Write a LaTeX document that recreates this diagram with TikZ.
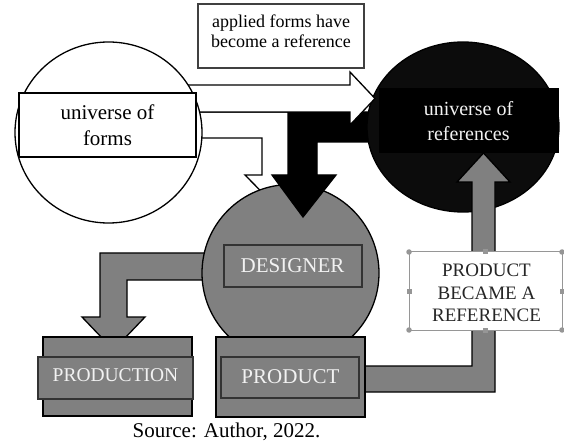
\documentclass[tikz,border=0pt]{standalone}
\usepackage{fontspec}
\setmainfont{Liberation Serif}
\definecolor{midgray}{RGB}{128,128,128}
\definecolor{offwhite}{RGB}{242,242,242}
\definecolor{handlegray}{RGB}{150,150,150}
\definecolor{nearblack}{RGB}{12,12,12}
\tikzset{
  outl/.style={draw=black, line width=1.3pt, line join=miter},
  whiteshape/.style={outl, fill=white},
  grayshape/.style={outl, fill=midgray},
  blackshape/.style={draw=black, line width=1.3pt, fill=black},
  graybox/.style={draw=black!80, line width=1.3pt, fill=midgray},
  lbl/.style={align=center, inner sep=0pt},
  handlesq/.style={fill=handlegray, draw=none, minimum size=5pt, inner sep=0pt, rectangle},
  handlecirc/.style={fill=handlegray, draw=none, minimum size=5.5pt, inner sep=0pt, circle}
}
\begin{document}
\begin{tikzpicture}[x=1pt, y=-1pt]
\useasboundingbox (0,0) rectangle (564,443);
\fill[white] (0,0) rectangle (564,443);

% top label box
\draw[draw=black!75, line width=1.1pt, fill=white] (198,4) rectangle (364,68);
\node[lbl, font=\fontsize{18}{20}\selectfont] (applied) at (281,31.4) {applied forms have\\become a reference};

% white bent arrow (behind)
\draw[whiteshape] (150,112) -- (289,112) -- (289,175) -- (306,175) -- (275.5,206) -- (245,175) -- (262,175) -- (262,138) -- (150,138) -- cycle;

% gray left arrow
\draw[grayshape] (230,253) -- (100,253) -- (100,317) -- (82,317) -- (113.5,350) -- (145,317) -- (127,317) -- (127,280) -- (230,280) -- cycle;

% gray designer circle
\draw[grayshape] (290.5,273) circle [radius=88.5];
\draw[graybox] (224,245) rectangle (362,287);
\node[lbl, text=offwhite, font=\fontsize{21}{25}\selectfont] (designer) at (292.5,265.5) {DESIGNER};

% black arrow
\draw[blackshape] (420,112) -- (288,112) -- (288,175) -- (272,175) -- (303,217) -- (336,175) -- (317,175) -- (317,142) -- (420,142) -- cycle;

% black circle universe of references
\draw[draw=black, line width=1.3pt, fill=nearblack] (463,127) ellipse [x radius=96, y radius=85];
\fill[black] (379,88) rectangle (559,153);
\node[lbl, text=offwhite, font=\fontsize{20}{25}\selectfont] (references) at (468.5,120.7) {universe of\\references};

% gray up arrow
\draw[grayshape] (340,366) -- (472,366) -- (472,182) -- (457,182) -- (483.5,153) -- (510,182) -- (495,182) -- (495,392) -- (340,392) -- cycle;

% white straight arrow
\draw[whiteshape] (150,85) -- (350,85) -- (350,72) -- (375,98.5) -- (350,125) -- (350,112) -- (150,112) -- cycle;

% left circle universe of forms
\draw[whiteshape] (108.5,132.5) ellipse [x radius=93.5, y radius=90.5];
\draw[whiteshape] (19,93) rectangle (196,157);
\node[lbl, font=\fontsize{21}{26}\selectfont] (forms) at (107.5,124.9) {universe of\\forms};

% PRODUCTION
\draw[grayshape] (43,337) rectangle (192,416);
\draw[graybox] (38,357) rectangle (193,399);
\node[lbl, text=offwhite, font=\fontsize{19.5}{24}\selectfont] (production) at (115.5,375.5) {PRODUCTION};

% PRODUCT
\draw[grayshape] (216,337) rectangle (365,417);
\draw[graybox] (221,357) rectangle (359,398);
\node[lbl, text=offwhite, font=\fontsize{21}{25}\selectfont] (product) at (290.5,377) {PRODUCT};

% PRODUCT BECAME A REFERENCE box
\draw[draw=handlegray, line width=1pt, fill=white] (409,252) rectangle (562,330);
\node[lbl, text=black!85, font=\fontsize{19}{22.5}\selectfont] (became) at (486.5,293.2) {PRODUCT\\BECAME A\\REFERENCE};
\node[handlecirc] (h1) at (409,252) {};
\node[handlecirc] (h2) at (562,252) {};
\node[handlecirc] (h3) at (409,330) {};
\node[handlecirc] (h4) at (562,330) {};
\node[handlesq] (h5) at (485.5,252) {};
\node[handlesq] (h6) at (485.5,330) {};
\node[handlesq] (h7) at (409,291) {};
\node[handlesq] (h8) at (562,291) {};

% caption
\node[inner sep=0pt, anchor=base, font=\fontsize{21}{25}\selectfont] (source) at (226.5,437) {Source: Author, 2022.};
\end{tikzpicture}
\end{document}
